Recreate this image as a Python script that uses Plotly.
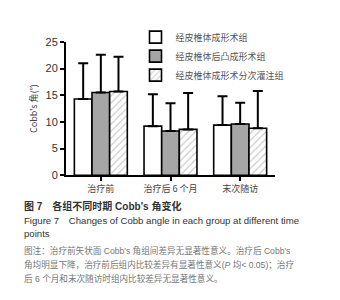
import plotly.graph_objects as go

categories = ["治疗前", "治疗后 6 个月", "末次随访"]
series_names = ["经皮椎体成形术组", "经皮椎体后凸成形术组", "经皮椎体成形术分次灌注组"]
means_a = [14.3, 9.2, 9.4]
means_b = [15.5, 8.3, 9.6]
means_c = [15.7, 8.6, 8.8]
sd_a = [6.7, 6.0, 5.4]
sd_b = [7.1, 5.2, 4.0]
sd_c = [6.5, 6.8, 7.0]
y_ticks = [0, 5, 10, 15, 20, 25]

FONT = "Liberation Sans, Noto Sans CJK SC, sans-serif"
styles = [
    dict(color="white", pattern=None),
    dict(color="#a6a6a6", pattern=None),
    dict(color="white", pattern=dict(shape="/", fgcolor="#9a9a9a", size=5, solidity=0.25)),
]

fig = go.Figure()
for name, m, s, st in zip(series_names, [means_a, means_b, means_c], [sd_a, sd_b, sd_c], styles):
    marker = dict(color=st["color"], line=dict(color="black", width=1.6))
    if st["pattern"]:
        marker["pattern"] = st["pattern"]
    fig.add_trace(go.Bar(
        x=categories, y=m, name=name, marker=marker,
        error_y=dict(type="data", symmetric=False, array=s, arrayminus=[0]*len(s),
                     color="black", thickness=2, width=5),
    ))

fig.update_layout(
    width=340, height=300,
    margin=dict(l=0, r=0, t=0, b=0),
    paper_bgcolor="white", plot_bgcolor="white",
    barmode="group", bargap=0.24, bargroupgap=0,
    font=dict(family=FONT, size=9, color="#222"),
    showlegend=True,
    legend=dict(x=0.375, y=0.97, xanchor="left", yanchor="top",
                font=dict(size=9, color="#555", family="Noto Sans CJK SC"),
                bgcolor="rgba(0,0,0,0)", tracegroupgap=0, itemwidth=30),
    xaxis=dict(domain=[58/340, 267/340], range=[-0.5, 2.5],
               showline=True, linecolor="black", linewidth=2,
               ticks="outside", ticklen=4, tickwidth=2, tickcolor="black",
               tickfont=dict(size=9, family="Noto Sans CJK SC", color="#444")),
    yaxis=dict(domain=[132/300, 271/300], range=[0, 25], tickvals=y_ticks,
               showline=True, linecolor="black", linewidth=2, showgrid=False, zeroline=False,
               ticks="outside", ticklen=4, tickwidth=2, tickcolor="black",
               tickfont=dict(size=11, family="Liberation Sans", color="#333"),
               title=dict(text="Cobb's 角(°)", standoff=6,
                          font=dict(size=9, family="Noto Sans CJK SC", color="#444"))),
)

caps = [
    (200, "<b>图 7　各组不同时期 Cobb's 角变化</b>", "#333", 10),
    (215, "Figure 7　Changes of Cobb angle in each group at different time", "#333", 9.6),
    (229, "points", "#333", 9.6),
    (246, "图注：治疗前矢状面 Cobb's 角组间差异无显著性意义。治疗后 Cobb's", "#777", 8.6),
    (261, "角均明显下降，治疗前后组内比较差异有显著性意义(<i>P</i> 均&lt; 0.05)；治疗", "#777", 8.6),
    (276, "后 6 个月和末次随访时组内比较差异无显著性意义。", "#777", 8.6),
]
for y, t, c, s in caps:
    fig.add_annotation(xref="paper", yref="paper", x=14/340, y=1 - y/300,
                       xanchor="left", yanchor="middle", showarrow=False,
                       text=t, font=dict(size=s, color=c, family="Liberation Sans, Noto Sans CJK SC"))

fig.write_html("out.html")
